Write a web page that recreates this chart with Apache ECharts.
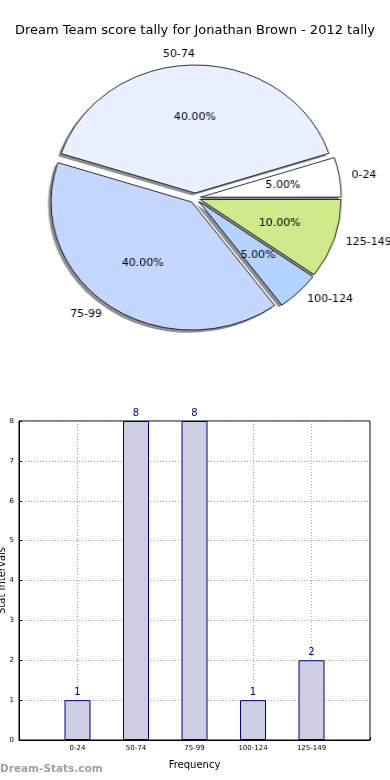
<!DOCTYPE html>
<html>
<head>
<meta charset="utf-8">
<script src="https://cdn.jsdelivr.net/npm/echarts@6/dist/echarts.min.js"></script>
<style>
html,body{margin:0;padding:0;background:#fff;}
#main{position:absolute;left:0;top:0;width:390px;height:780px;}
#pie{position:absolute;left:0;top:0;width:390px;height:380px;transform:scaleX(1.1);transform-origin:195px 0;}
</style>
</head>
<body>
<div id="main"></div>
<div id="pie"></div>
<script>
// ---- data ----
const titleText = 'Dream Team score tally for Jonathan Brown - 2012 tally';
const pieCategories = ['0-24', '50-74', '75-99', '100-124', '125-149'];
const pieValues = [1, 8, 8, 1, 2];
const barCategories = ['0-24', '50-74', '75-99', '100-124', '125-149'];
const barValues = [1, 8, 8, 1, 2];
const yTickValues = [0, 1, 2, 3, 4, 5, 6, 7, 8];
const xAxisName = 'Frequency';
const yAxisName = 'Stat Intervals';
const watermark = 'Dream-Stats.com';

// ---- styles ----
const pieColors = ['#ffffff', '#e9f0ff', '#c4d8ff', '#b3d4ff', '#cfea8a'];
const FONT = 'DejaVu Sans';

// ---- bar chart (main) ----
const main = echarts.init(document.getElementById('main'), null, {renderer: 'canvas'});
const xData = [''].concat(barCategories, ['']);
const bData = ['-'].concat(barValues, ['-']);
main.setOption({
  animation: false,
  textStyle: {fontFamily: FONT},
  title: {
    text: titleText, left: 'center', top: 19,
    textStyle: {fontSize: 13, fontWeight: 'normal', color: '#000', fontFamily: FONT}
  },
  grid: {left: 19, top: 421, width: 351, height: 319, outerBoundsMode: 'none', containLabel: false,
    show: true, borderColor: '#000', borderWidth: 1, backgroundColor: '#fff'},
  xAxis: {
    type: 'category', data: xData, boundaryGap: false,
    name: xAxisName, nameLocation: 'middle', nameGap: 20, nameMoveOverlap: false,
    nameTextStyle: {fontSize: 10, color: '#000', fontFamily: FONT},
    axisLine: {show: true, lineStyle: {color: '#000', width: 1}},
    axisTick: {show: true, inside: true, length: 3, lineStyle: {color: '#000'}},
    axisLabel: {fontSize: 7, color: '#000', margin: 5, interval: 0, fontFamily: FONT},
    splitLine: {show: true, lineStyle: {color: '#a8a8a8', type: [1, 2], width: 1}}
  },
  yAxis: {
    type: 'value', min: 0, max: 8, interval: 1,
    name: yAxisName, nameLocation: 'middle', nameGap: 12, nameMoveOverlap: false, nameRotate: 90,
    nameTextStyle: {fontSize: 10, color: '#000', fontFamily: FONT},
    axisLine: {show: true, lineStyle: {color: '#000', width: 1}},
    axisTick: {show: true, inside: true, length: 3, lineStyle: {color: '#000'}},
    axisLabel: {fontSize: 7, color: '#000', margin: 5, fontFamily: FONT,
      formatter: v => yTickValues.indexOf(v) >= 0 ? String(v) : ''},
    splitLine: {show: true, lineStyle: {color: '#a8a8a8', type: [1, 2], width: 1}}
  },
  series: [{
    type: 'bar', data: bData, barWidth: 26,
    itemStyle: {color: '#cdcde3', borderColor: '#000080', borderWidth: 1},
    label: {show: true, position: 'top', distance: 3, color: '#000080', fontSize: 10, fontFamily: FONT},
    emphasis: {disabled: true}, silent: true
  }],
  graphic: [{
    type: 'text', left: 0, top: 764,
    style: {text: watermark, fill: '#a0a0a0', font: 'bold 10.5px "DejaVu Sans"'}
  }]
});

// ---- pie chart (overlay, stretched horizontally like the reference ellipse) ----
const pie = echarts.init(document.getElementById('pie'), null, {renderer: 'canvas'});
const pieData = pieCategories.map((c, i) => ({
  name: c, value: pieValues[i], selected: true, itemStyle: {color: pieColors[i]}
}));
const pieShadowData = pieCategories.map((c, i) => ({
  name: c, value: pieValues[i], selected: true
}));
const pieLabelData = pieCategories.map((c, i) => ({
  name: c, value: pieValues[i]
}));
const common = {
  type: 'pie', startAngle: 0.05, clockwise: false,
  avoidLabelOverlap: false, silent: true, emphasis: {disabled: true}
};
pie.setOption({
  animation: false,
  textStyle: {fontFamily: FONT},
  series: [Object.assign({}, common, {
    // shadow layer
    center: [192.3, 200.6], radius: 128,
    selectedMode: 'multiple', selectedOffset: 5,
    data: pieShadowData,
    itemStyle: {color: 'rgba(70,70,70,0.6)', borderWidth: 0},
    label: {show: false}, labelLine: {show: false}
  }), Object.assign({}, common, {
    center: [195, 198], radius: 128,
    selectedMode: 'multiple', selectedOffset: 5,
    data: pieData,
    itemStyle: {borderColor: '#000', borderWidth: 0.8},
    label: {show: true, position: 'outside', formatter: '{b}', fontSize: 10, color: '#000',
      distanceToLabelLine: 0, fontFamily: FONT},
    labelLine: {show: false, length: 11, length2: 0}
  }), Object.assign({}, common, {
    // percentage labels at 0.6 r from exploded centre
    center: [195, 198], radius: 156,
    selectedMode: false,
    data: pieLabelData,
    itemStyle: {color: 'rgba(0,0,0,0)', borderWidth: 0},
    label: {show: true, position: 'inside', fontSize: 10, color: '#000', fontFamily: FONT,
      formatter: p => p.percent.toFixed(2) + '%'},
    labelLine: {show: false}
  })]
});
</script>
</body>
</html>
